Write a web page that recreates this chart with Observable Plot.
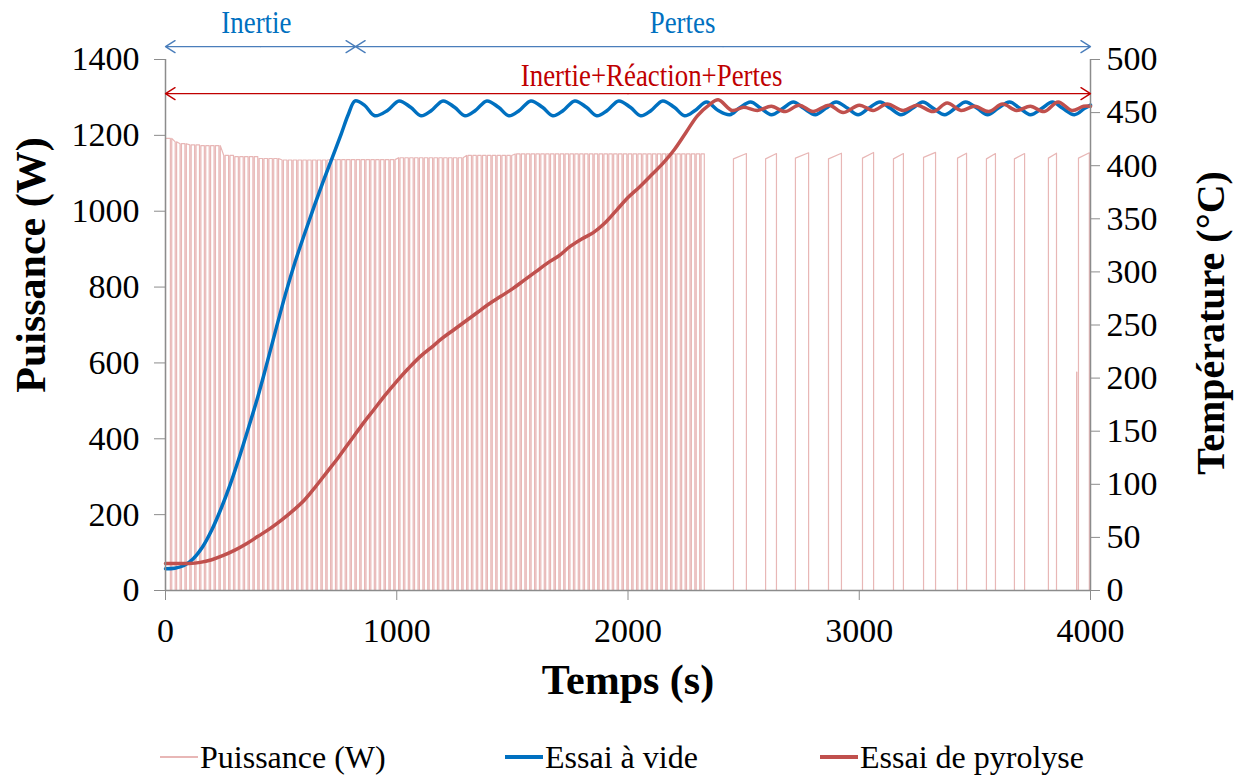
<!DOCTYPE html>
<html><head><meta charset="utf-8">
<script src="https://cdn.jsdelivr.net/npm/d3@7"></script>
<script src="https://cdn.jsdelivr.net/npm/@observablehq/plot@0.6"></script>
<style>
body{margin:0;background:#fff;}
#legend{position:relative;width:1238px;height:55px;font-family:"Liberation Serif","Times New Roman",serif;font-size:32px;color:#000;}
.item{position:absolute;top:0;height:74px;display:flex;align-items:center;white-space:nowrap;}
.sw{display:inline-block;width:38px;margin-right:2px;}
</style></head><body>
<div id="chart"></div>
<div id="legend"></div>
<script>
// ---------- data ----------
const xTicks = [0, 1000, 2000, 3000, 4000];
const powerTicks = [0, 200, 400, 600, 800, 1000, 1200, 1400];
const tempTicks = [0, 50, 100, 150, 200, 250, 300, 350, 400, 450, 500];
const P_PER_T = 1400 / 500; // right axis (°C) mapped onto left axis (W)

// Power: dense phase, short off-notches (s) in an otherwise "on" signal
const denseNotches = [21,42,63,84,105,126,147,168,189,210,231,252,273,294,315,336,357,378,399,420,441,462,483,504,525,546,567,588,609,630,651,672,693,714,735,756,777,798,819,840,861,882,903,924,945,966,987,1008,1029,1050,1071,1092,1113,1134,1155,1176,1197,1218,1239,1260,1281,1302,1323,1344,1365,1386,1407,1428,1449,1470,1491,1512,1533,1554,1575,1596,1617,1638,1659,1680,1701,1722,1743,1764,1785,1806,1827,1848,1869,1890,1911,1932,1953,1974,1995,2016,2037,2058,2079,2100,2121,2142,2163,2184,2205,2226,2247,2268,2289,2310];
const notchWidth = 6;
const denseEnd = 2330;
// level of the "on" power (W) from given times (s)
const envTimes = [0, 30, 60, 100, 150, 250, 300, 400, 500, 700, 1000, 1300, 1500];
const envLevels = [1192, 1183, 1178, 1175, 1173, 1147, 1144, 1139, 1135, 1136, 1141, 1147, 1151];
// sparse regulation pulses (s) and their start/end levels (W)
const sparseStart = [2456, 2595, 2724, 2867, 3014, 3148, 3278, 3425, 3550, 3671, 3818, 3948];
const sparseEnd   = [2512, 2642, 2781, 2923, 3062, 3191, 3330, 3464, 3589, 3715, 3853, 3995];
const sparseTopStart = [1138, 1138, 1140, 1138, 1140, 1138, 1142, 1140, 1138, 1138, 1140, 1140];
const sparseTopEnd   = [1152, 1152, 1154, 1153, 1155, 1152, 1155, 1153, 1152, 1152, 1153, 1154];
const spikeTime = 3940, spikeLevel = 576;

// Essai à vide (°C)
const blueT = [0,40,80,120,160,200,240,280,320,360,400,440,480,520,560,600,640,680,720,760,790,820,860,905,960,1010,1060,1105,1150,1200,1250,1295,1340,1390,1440,1485,1530,1580,1630,1675,1720,1770,1820,1865,1910,1960,2010,2055,2100,2150,2200,2245,2290,2340,2390,2440,2480,2530,2575,2620,2670,2715,2760,2810,2855,2900,2950,2995,3040,3090,3135,3180,3230,3275,3320,3370,3415,3460,3510,3555,3600,3650,3695,3740,3790,3835,3880,3930,3975,4000];
const blueV = [20.5,21,23.5,30,41,57,77,100,126,154,183,215,248,280,309,335,360,384,407,430,448,461,457,447,452,461,455,447,452,461,455,447,452,461,455,447,452,461,455,447,452,461,455,447,452,461,455,447,452,461,455,447,452,460,452,448,454,460,454,448,454,460,454,448,454,460,454,448,454,460,454,448,454,460,454,448,454,460,454,448,454,460,454,448,454,460,454,448,454,457];

// Essai de pyrolyse (°C)
const redT = [0,100,150,200,250,300,350,400,450,500,550,600,650,700,750,800,850,900,950,1000,1050,1100,1150,1200,1250,1300,1350,1400,1450,1500,1550,1600,1650,1700,1750,1800,1850,1900,1950,2000,2050,2100,2150,2200,2250,2300,2350,2390,2450,2500,2560,2620,2680,2740,2800,2870,2930,3000,3060,3120,3190,3250,3320,3380,3440,3500,3560,3620,3680,3740,3800,3860,3920,3970,4000];
const redV = [25.5,25.5,26.5,29,33,38,44,51,58,66,75,85,98,112,126,141,156,170,184,197,209,220,229,238,246,254,262,270,277,284,292,300,308,315,324,331,337,346,358,370,380,391,402,415,431,447,457,462,452,455,452,456,451,457,451,457,450,457,452,458,452,457,451,459,452,456,451,458,452,456,451,460,452,456,456];

// annotations
const annotTexts = [
  {t: 393, p: 1497, label: "Inertie", color: "#0070C0"},
  {t: 2236, p: 1497, label: "Pertes", color: "#0070C0"},
  {t: 2102, p: 1358, label: "Inertie+Réaction+Pertes", color: "#C00000"}
];
const annotSpans = [
  {t1: 0, t2: 822, p: 1434, color: "#4A7EBB"},
  {t1: 822, t2: 4000, p: 1434, color: "#4A7EBB"},
  {t1: 0, t2: 4000, p: 1310, color: "#C00000"}
];

// ---------- build power series ----------
function envAt(t) {
  const i = d3.bisectRight(envTimes, t) - 1;
  return envLevels[Math.max(0, i)];
}
const power = [{t: 0, p: 0}, {t: 0, p: envAt(0)}];
for (const n of denseNotches) {
  power.push({t: n, p: envAt(n)}, {t: n, p: 0}, {t: n + notchWidth, p: 0}, {t: n + notchWidth, p: envAt(n + notchWidth)});
}
power.push({t: denseEnd, p: envAt(denseEnd)}, {t: denseEnd, p: 0});
sparseStart.forEach((s, i) => {
  if (i === sparseStart.length - 1) {
    power.push({t: spikeTime, p: 0}, {t: spikeTime, p: spikeLevel}, {t: spikeTime + 1, p: spikeLevel}, {t: spikeTime + 1, p: 0});
  }
  power.push({t: s, p: 0}, {t: s, p: sparseTopStart[i]}, {t: sparseEnd[i], p: sparseTopEnd[i]}, {t: sparseEnd[i], p: 0});
});
power.push({t: 4000, p: 0});

const blue = blueT.map((t, i) => ({t, v: blueV[i] * P_PER_T}));
const red = redT.map((t, i) => ({t, v: redV[i] * P_PER_T}));

// double-headed arrows = two half arrows from the middle of each span
const halfArrows = annotSpans.flatMap(s => {
  const m = (s.t1 + s.t2) / 2;
  return [{from: m, to: s.t1, p: s.p, color: s.color}, {from: m, to: s.t2, p: s.p, color: s.color}];
});

const font = '"Liberation Serif","Times New Roman",serif';
const gray = "#8c8c8c";

const chart = Plot.plot({
  width: 1238, height: 720,
  marginLeft: 165, marginRight: 148, marginTop: 59, marginBottom: 130,
  style: {fontFamily: font, fontSize: "34px", background: "white", overflow: "visible", color: "#000"},
  x: {domain: [0, 4000]},
  y: {domain: [0, 1400]},
  marks: [
    Plot.line(power, {x: "t", y: "p", stroke: "#E8B7B6", strokeWidth: 1.2}),
    Plot.line(blue, {x: "t", y: "v", stroke: "#0070C0", strokeWidth: 3.5, curve: "catmull-rom"}),
    Plot.line(red, {x: "t", y: "v", stroke: "#C0504D", strokeWidth: 3.5, curve: "catmull-rom"}),
    Plot.ruleX([0, 4000], {stroke: gray, strokeWidth: 1.5}),
    Plot.ruleY([0], {stroke: gray, strokeWidth: 1.5}),
    Plot.axisY({ticks: powerTicks, tickFormat: d => String(d), tickSize: 11, tickPadding: 15, stroke: gray, fill: "#000", label: null, fontSize: 34, fontFamily: font}),
    Plot.axisY({anchor: "right", ticks: tempTicks.map(d => d * P_PER_T), tickFormat: d => String(Math.round(d / P_PER_T)), tickSize: 9, tickPadding: 7, stroke: gray, fill: "#000", label: null, fontSize: 34, fontFamily: font}),
    Plot.axisX({ticks: xTicks, tickFormat: d => String(d), tickSize: 10, tickPadding: 17, stroke: gray, fill: "#000", label: null, fontSize: 34, fontFamily: font}),
    Plot.text(["Puissance (W)"], {frameAnchor: "left", textAnchor: "middle", lineAnchor: "middle", rotate: -90, dx: -134, dy: -60, fontSize: 42, fontWeight: "bold", fontFamily: font}),
    Plot.text(["Température (°C)"], {frameAnchor: "right", textAnchor: "middle", lineAnchor: "middle", rotate: -90, dx: 121, dy: -2, fontSize: 40, fontWeight: "bold", fontFamily: font}),
    Plot.text(["Temps (s)"], {frameAnchor: "bottom", lineAnchor: "middle", dy: 90, fontSize: 42, fontWeight: "bold", fontFamily: font}),
    Plot.arrow(halfArrows, {x1: "from", x2: "to", y1: "p", y2: "p", stroke: "color", strokeWidth: 1.4, headLength: 12, headAngle: 64}),
    Plot.text(annotTexts, {x: "t", y: "p", text: "label", fill: "color", fontSize: 32, fontFamily: font, className: "annot"})
  ]
});
document.getElementById("chart").appendChild(chart);
// slightly condensed annotation lettering as in the reference
d3.select(chart).selectAll("g.annot text").each(function () {
  const tr = this.getAttribute("transform") || "";
  this.setAttribute("transform", tr + " scale(0.84,1)");
});

// ---------- legend ----------
const legendItems = [
  {label: "Puissance (W)", color: "#E8B7B6", width: 1.5, left: 160},
  {label: "Essai à vide", color: "#0070C0", width: 4, left: 505},
  {label: "Essai de pyrolyse", color: "#C0504D", width: 4, left: 820}
];
const leg = document.getElementById("legend");
for (const it of legendItems) {
  const d = document.createElement("div");
  d.className = "item";
  d.style.left = it.left + "px";
  const sw = document.createElement("span");
  sw.className = "sw";
  sw.style.height = it.width + "px";
  sw.style.background = it.color;
  d.appendChild(sw);
  d.appendChild(document.createTextNode(it.label));
  leg.appendChild(d);
}
</script></body></html>
